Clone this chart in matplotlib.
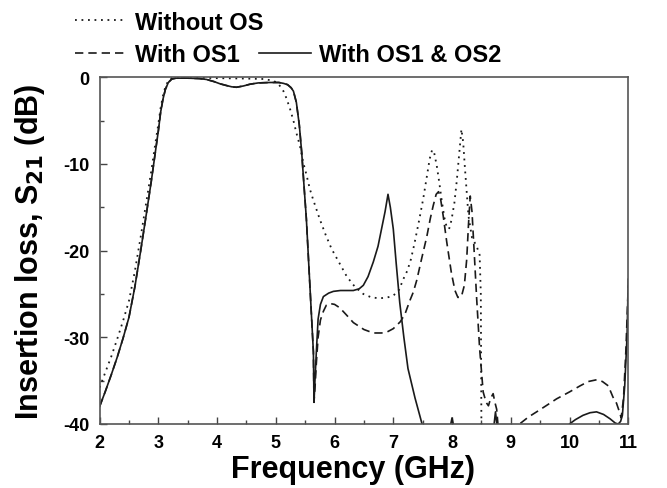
import matplotlib
matplotlib.use("Agg")
import matplotlib.pyplot as plt
from matplotlib.ticker import MultipleLocator

plt.rcParams["font.family"] = ["Liberation Sans", "DejaVu Sans"]
plt.rcParams["font.weight"] = "bold"
plt.rcParams["mathtext.default"] = "bf"
plt.rcParams["axes.unicode_minus"] = False

# --- Without OS (dotted) ---
freq_without = [2.0, 2.1, 2.2, 2.3, 2.4, 2.5, 2.6, 2.7, 2.8, 2.88, 2.95,
                3.0, 3.04, 3.08, 3.12, 3.17, 3.23, 3.4, 3.7, 4.0, 4.5, 4.8, 4.95, 5.02,
                5.07, 5.13, 5.18, 5.24, 5.3, 5.35, 5.41, 5.47, 5.52, 5.58, 5.64, 5.7,
                5.75, 5.85, 5.95, 6.08, 6.21, 6.35, 6.49, 6.63, 6.77, 6.9, 7.0, 7.1,
                7.17, 7.24, 7.3, 7.36, 7.44, 7.51, 7.57, 7.62, 7.66, 7.69, 7.74, 7.78,
                7.82, 7.87, 7.91, 7.95, 7.99, 8.04, 8.08, 8.12, 8.16, 8.19, 8.22, 8.28,
                8.34, 8.42, 8.47, 8.49, 8.5, 8.52]
s21_without = [-35.8, -34.0, -32.2, -30.2, -28.1, -25.8, -22.4, -18.4, -14.2, -10.8, -7.6,
               -5.4, -3.5, -2.1, -1.1, -0.4, -0.1, -0.05, -0.05, -0.1, -0.15,
               -0.2, -0.4, -0.6, -1.0, -1.6, -2.4, -3.6, -5.0, -6.4, -7.9, -9.9, -11.2,
               -12.9, -14.2, -15.4, -16.4, -18.2, -19.8, -21.4, -23.0, -24.2, -25.0,
               -25.4, -25.5, -25.4, -25.2, -24.5, -23.3, -22.3, -21.0, -19.2, -16.5,
               -14.0, -11.5, -9.4, -8.4, -8.5, -10.2, -12.0, -14.0, -16.2, -17.3, -17.5,
               -16.5, -14.5, -12.0, -9.0, -6.0, -7.5, -10.5, -16.0, -18.5, -19.5, -20.5,
               -25.0, -40.0, -45.0]

# --- passband shared by "With OS1" and "With OS1 & OS2" ---
freq_band = [2.0, 2.1, 2.2, 2.3, 2.4, 2.5, 2.6, 2.7, 2.8, 2.88, 2.95, 3.0,
             3.04, 3.08, 3.12, 3.17, 3.23, 3.3, 3.5, 3.7, 3.82, 3.95, 4.05, 4.16, 4.25,
             4.33, 4.45, 4.56, 4.7, 4.9, 5.05, 5.13, 5.2, 5.26, 5.3, 5.35, 5.4, 5.44,
             5.48, 5.52, 5.58, 5.64, 5.65]
s21_band = [-38.0, -36.2, -34.3, -32.3, -30.1, -27.7, -24.2, -20.0, -15.6, -12.0, -8.6,
            -6.2, -4.0, -2.5, -1.4, -0.6, -0.2, -0.1, -0.1, -0.15, -0.25,
            -0.5, -0.75, -0.95, -1.1, -1.15, -1.0, -0.8, -0.65, -0.6, -0.6, -0.7, -0.85,
            -1.2, -1.6, -2.9, -5.5, -8.6, -12.5, -16.3, -24.0, -31.7, -37.5]

# --- With OS1 (dashed), above 5.65 GHz ---
freq_os1 = [5.67, 5.69, 5.72, 5.76, 5.81, 5.86, 5.92, 6.0, 6.09, 6.2, 6.32, 6.5, 6.66, 6.8,
            6.89, 7.0, 7.12, 7.2, 7.28, 7.34, 7.4, 7.48, 7.57, 7.63, 7.68, 7.73, 7.77, 7.8,
            7.85, 7.91, 7.99, 8.05, 8.1, 8.16, 8.21, 8.25, 8.28, 8.31, 8.34, 8.38, 8.42,
            8.47, 8.53, 8.58, 8.62, 8.66, 8.7, 8.73, 8.76, 8.8, 9.0, 9.15, 9.3, 9.44, 9.6,
            9.78, 10.0, 10.18, 10.32, 10.46, 10.56, 10.66, 10.74, 10.8, 10.85, 10.88,
            10.92, 10.96, 11.0]
s21_os1 = [-35.5, -33.0, -30.0, -28.0, -27.0, -26.3, -26.1, -26.2, -26.6, -27.4, -28.3,
           -29.1, -29.5, -29.5, -29.4, -29.0, -28.2, -27.3, -25.8, -24.8, -23.4, -21.0,
           -18.4, -16.3, -14.8, -13.5, -13.2, -13.8, -16.0, -19.0, -22.6, -24.6, -25.4,
           -25.3, -24.0, -21.0, -17.0, -13.7, -15.5, -20.5, -25.6, -31.3, -36.3, -37.5,
           -37.9, -37.0, -36.5, -37.5, -38.3, -41.5, -42.0, -40.0, -39.2, -38.6, -37.9,
           -37.1, -36.3, -35.6, -35.1, -34.9, -35.1, -35.6, -36.9, -37.6, -38.6, -39.3,
           -37.0, -31.5, -24.0]

# --- With OS1 & OS2 (solid), above 5.65 GHz ---
freq_os12 = [5.67, 5.69, 5.72, 5.76, 5.81, 5.9, 5.98, 6.1, 6.2, 6.32, 6.42, 6.49, 6.57,
             6.66, 6.74, 6.8, 6.86, 6.91, 6.95, 7.0, 7.05, 7.11, 7.18, 7.25, 7.37, 7.49,
             7.7, 7.95, 8.0, 8.05, 8.4, 8.7, 8.74, 8.78, 9.3, 9.8, 10.0, 10.1, 10.23,
             10.35, 10.46, 10.58, 10.69, 10.78, 10.83, 10.87, 10.9, 10.94, 10.98, 11.0]
s21_os12 = [-34.5, -31.7, -27.9, -26.2, -25.3, -24.9, -24.7, -24.6, -24.6, -24.6, -24.4,
            -24.0, -23.0, -21.3, -19.5, -17.5, -15.5, -13.5, -15.0, -17.5, -21.5, -26.0,
            -30.0, -33.6, -37.0, -40.0, -43.0, -41.0, -39.3, -41.0, -44.0, -41.0, -38.6,
            -41.0, -44.0, -42.0, -40.0, -39.5, -39.0, -38.7, -38.6, -38.9, -39.4, -39.9,
            -40.0, -39.7, -39.0, -35.6, -29.8, -23.3]

x_ticks = [2, 3, 4, 5, 6, 7, 8, 9, 10, 11]
y_ticks = [0, -10, -20, -30, -40]

ink = "#1a1a1a"
fig = plt.figure(figsize=(6.67, 4.89), dpi=100)
ax = fig.add_axes([0.1493, 0.1309, 0.7926, 0.709])

l_without, = ax.plot(freq_without, s21_without, color=ink, lw=1.3,
                     linestyle=(0, (1, 2.6)), label="Without OS")
l_os1, = ax.plot(freq_band + freq_os1, s21_band + s21_os1, color=ink, lw=1.2,
                 linestyle=(0, (5, 3)), label="With OS1")
l_os12, = ax.plot(freq_band + freq_os12, s21_band + s21_os12, color=ink, lw=1.2,
                  label="With OS1 & OS2")

ax.set_xlim(2, 11)
ax.set_ylim(-40, 0)
ax.set_xticks(x_ticks)
ax.set_yticks(y_ticks)
ax.xaxis.set_minor_locator(MultipleLocator(0.5))
ax.yaxis.set_minor_locator(MultipleLocator(5))
ax.tick_params(which="both", direction="in", top=False, right=False, color="#444444")
ax.tick_params(which="major", length=5, width=1.0, labelsize=13, pad=7)
ax.tick_params(which="minor", length=3, width=1.0)
for spine in ax.spines.values():
    spine.set_color("#555555")
    spine.set_linewidth(1.2)

ax.set_xlabel("Frequency (GHz)", fontsize=22, fontweight="bold")
ax.xaxis.set_label_coords(0.479, -0.088)
ax.set_ylabel("Insertion loss, S$_{21}$ (dB)", fontsize=22, fontweight="bold", labelpad=12)

leg_style = dict(frameon=False, handlelength=2.2, handletextpad=0.35, columnspacing=0.8,
                 borderpad=0.2, prop={"weight": "bold", "size": 17})
fig.legend([l_without], ["Without OS"], loc="upper left",
           bbox_to_anchor=(0.088, 1.01), **leg_style)
fig.legend([l_os1, l_os12], ["With OS1", "With OS1 & OS2"], ncol=2, loc="upper left",
           bbox_to_anchor=(0.088, 0.943), **leg_style)

fig.savefig("out.png", dpi=100)
